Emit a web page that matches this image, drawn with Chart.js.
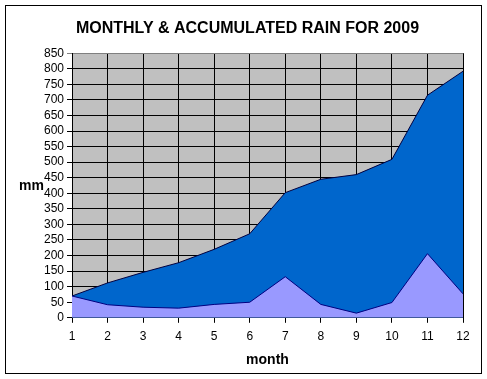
<!DOCTYPE html>
<html>
<head>
<meta charset="utf-8">
<script src="https://cdn.jsdelivr.net/npm/chart.js@4/dist/chart.umd.min.js"></script>
<style>
  html, body { margin: 0; padding: 0; background: #fff; }
  #wrap { width: 487px; height: 379px; }
</style>
</head>
<body>
<div id="wrap"><canvas id="rainChart" width="487" height="379"></canvas></div>
<script>
const months = [1, 2, 3, 4, 5, 6, 7, 8, 9, 10, 11, 12];
const monthlyRain = [70, 42, 34, 31, 43, 50, 132, 43, 15, 49, 206, 77];
const accumulatedRain = [70, 112, 146, 177, 220, 270, 402, 445, 460, 509, 715, 792];

Chart.defaults.font.family = "'Liberation Sans', Arial, sans-serif";
Chart.defaults.color = "#000";

const frame = {
  id: "frame",
  beforeDraw(chart) {
    const c = chart.ctx;
    const a = chart.chartArea;
    c.save();
    c.fillStyle = "#fff";
    c.fillRect(0, 0, chart.width, chart.height);
    c.strokeStyle = "#000";
    c.lineWidth = 1;
    c.strokeRect(5.5, 5.5, 476, 368);
    c.fillStyle = "#c0c0c0";
    c.fillRect(a.left, a.top, a.right - a.left, a.bottom - a.top);
    c.restore();
  },
  afterDraw(chart) {
    const c = chart.ctx;
    c.save();
    c.fillStyle = "#000";
    c.font = "bold 14px 'Liberation Sans', Arial, sans-serif";
    c.textAlign = "left";
    c.textBaseline = "middle";
    c.fillText("mm", 19, 186);
    c.restore();
  }
};

let ctx = document.getElementById("rainChart");

const rainChart = new Chart(ctx, {
  type: "line",
  data: {
    labels: months,
    datasets: [
      {
        label: "Monthly",
        data: monthlyRain.map((v, i) => ({ x: months[i], y: v })),
        borderColor: "#000080",
        backgroundColor: "#9999ff",
        borderWidth: 1,
        fill: "origin",
        pointRadius: 0,
        tension: 0,
      },
      {
        label: "Accumulated",
        data: accumulatedRain.map((v, i) => ({ x: months[i], y: v })),
        borderColor: "#000040",
        backgroundColor: "#0066cc",
        borderWidth: 1,
        fill: "origin",
        pointRadius: 0,
        tension: 0,
      },
    ],
  },
  options: {
    responsive: false,
    animation: false,
    layout: {
      padding: { left: 32, right: 24, top: 5, bottom: 10 },
    },
    plugins: {
      legend: { display: false },
      tooltip: { enabled: false },
      title: {
        display: true,
        text: "MONTHLY & ACCUMULATED RAIN FOR 2009",
        color: "#000",
        font: { size: 16, weight: "bold" },
        padding: { top: 14, bottom: 15 },
      },
    },
    scales: {
      x: {
        type: "linear",
        min: 1,
        max: 12,
        ticks: {
          stepSize: 1,
          autoSkip: false,
          color: "#000",
          font: { size: 12 },
          padding: 7,
        },
        grid: {
          color: "#000",
          lineWidth: 1,
          tickLength: 5,
        },
        border: { color: "#000" },
        title: {
          display: true,
          text: "month",
          color: "#000",
          font: { size: 14, weight: "bold" },
          padding: { top: 1, bottom: 0 },
        },
      },
      y: {
        min: 0,
        max: 850,
        afterFit(scale) {
          scale.width = 40;
        },
        ticks: {
          stepSize: 50,
          autoSkip: false,
          color: "#000",
          font: { size: 12 },
          padding: 3,
        },
        grid: {
          color: (c) => (c.tick && c.tick.value === 850 ? "#808080" : "#000"),
          lineWidth: 1,
          tickLength: 5,
        },
        border: { color: "#000" },
      },
    },
  },
  plugins: [frame],
});
</script>
</body>
</html>
